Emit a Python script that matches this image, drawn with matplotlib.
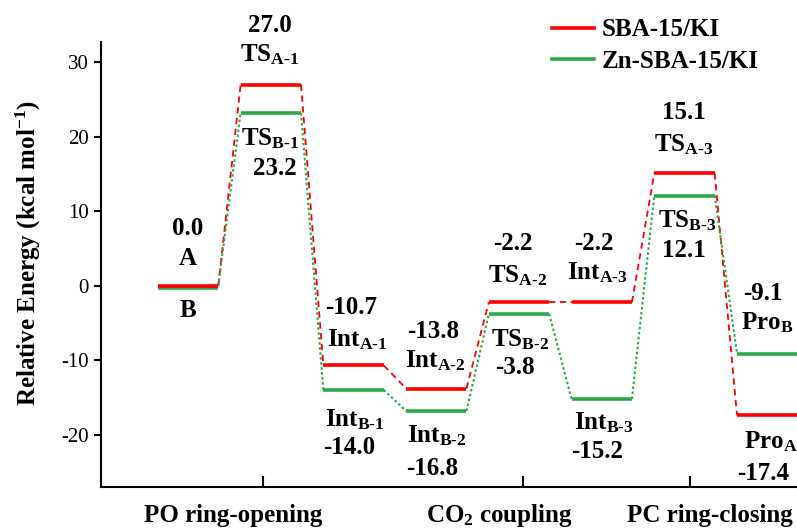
import matplotlib
matplotlib.use('Agg')
import matplotlib.pyplot as plt
import matplotlib.transforms as mtransforms

# energies (kcal/mol) for each stationary point
energy_a = [0.0, 27.0, -10.7, -13.8, -2.2, -2.2, 15.1, -17.4]   # SBA-15/KI
energy_b = [0.0, 23.2, -14.0, -16.8, -3.8, -15.2, 12.1, -9.1]   # Zn-SBA-15/KI
names_a = ['A', 'TS$_{A\\text{-}1}$', 'Int$_{A\\text{-}1}$', 'Int$_{A\\text{-}2}$',
           'TS$_{A\\text{-}2}$', 'Int$_{A\\text{-}3}$', 'TS$_{A\\text{-}3}$', 'Pro$_{A}$']
names_b = ['B', 'TS$_{B\\text{-}1}$', 'Int$_{B\\text{-}1}$', 'Int$_{B\\text{-}2}$',
           'TS$_{B\\text{-}2}$', 'Int$_{B\\text{-}3}$', 'TS$_{B\\text{-}3}$', 'Pro$_{B}$']
series_labels = ['SBA-15/KI', 'Zn-SBA-15/KI']
stages = ['PO ring-opening', 'CO$_2$ coupling', 'PC ring-closing']
yticks = [-20, -10, 0, 10, 20, 30]

RED = '#ff0000'
GREEN = '#2ca84a'

plt.rcParams['font.family'] = ['Liberation Serif', 'DejaVu Serif']
plt.rcParams['mathtext.fontset'] = 'custom'
plt.rcParams['mathtext.rm'] = 'Liberation Serif:bold'
plt.rcParams['mathtext.it'] = 'Liberation Serif:bold'
plt.rcParams['mathtext.bf'] = 'Liberation Serif:bold'

fig = plt.figure(figsize=(7.97, 5.28), dpi=100)
ax = fig.add_axes([0.127, 0.078, 0.873, 0.842])

half = 0.365
n = len(energy_a)
green_shift = mtransforms.ScaledTranslation(0, -1.6 / 72, fig.dpi_scale_trans)

for i in range(n):
    ta = ax.transData
    tb = ax.transData + green_shift if abs(energy_a[i] - energy_b[i]) < 0.5 else ax.transData
    ax.plot([i - half, i + half], [energy_b[i]] * 2, color=GREEN, lw=2.6,
            solid_capstyle='butt', transform=tb, zorder=3)
    ax.plot([i - half, i + half], [energy_a[i]] * 2, color=RED, lw=2.6,
            solid_capstyle='butt', transform=ta, zorder=4)
    if i < n - 1:
        ax.plot([i + half, i + 1 - half], [energy_a[i], energy_a[i + 1]], color=RED,
                lw=1.3, ls=(0, (3.5, 2.5)), zorder=2)
        ax.plot([i + half, i + 1 - half], [energy_b[i], energy_b[i + 1]], color=GREEN,
                lw=1.5, ls=(0, (1.2, 1.2)), zorder=2)

# text placement: (dx, y) for upper number, upper name, lower name, lower number
text_pos = [
    [(0.00, 7.7), (0.00, 3.7), (0.00, -3.3), None],
    [(0.99, 35.0), (0.99, 31.0), (0.99, 19.8), (1.05, 15.8)],
    [(1.97, -2.9), (2.04, -7.3), (2.02, -18.0), (1.95, -21.7)],
    [(2.96, -6.2), (2.99, -10.0), (3.01, -20.1), (2.95, -24.5)],
    [(3.93, 5.7), (3.98, 1.4), (4.01, -7.3), (3.95, -11.0)],
    [(4.90, 5.7), (4.95, 1.7), (5.02, -18.4), (4.95, -22.3)],
    [(5.99, 23.2), (5.99, 18.9), (6.03, 8.8), (5.99, 4.8)],
    [(6.95, -1.0), (7.00, -5.0), (7.04, -21.0), (6.95, -25.2)],
]
tkw = dict(ha='center', va='center', fontsize=18, fontweight='bold', clip_on=False)
for i in range(n):
    if energy_a[i] >= energy_b[i]:
        up = (energy_a[i], names_a[i]); lo = (energy_b[i], names_b[i])
    else:
        up = (energy_b[i], names_b[i]); lo = (energy_a[i], names_a[i])
    p = text_pos[i]
    ax.text(p[0][0], p[0][1], f'{up[0]:.1f}', **tkw)
    ax.text(p[1][0], p[1][1], up[1], **tkw)
    ax.text(p[2][0], p[2][1], lo[1], **tkw)
    if p[3] is not None:
        ax.text(p[3][0], p[3][1], f'{lo[0]:.1f}', **tkw)

stage_x = [0.54, 3.76, 6.31]
for sx, s in zip(stage_x, stages):
    ax.text(sx, -30.9, s, **tkw)

ax.set_xlim(-1.05, 7.36)
ax.set_ylim(-27.0, 32.7)
ax.set_xticks([0.91, 4.05, 6.07])
ax.set_xticklabels([])
ax.set_yticks(yticks)
ax.set_yticklabels([str(t) for t in yticks])
ax.tick_params(axis='x', direction='in', length=8, width=1.5)
ax.tick_params(axis='y', direction='out', length=5, width=1.5, labelsize=15, pad=4)
for side in ['top', 'right']:
    ax.spines[side].set_visible(False)
for side in ['left', 'bottom']:
    ax.spines[side].set_linewidth(1.5)

ax.set_ylabel('Relative Energy (kcal mol$^{-1}$)', fontsize=18, fontweight='bold')
ax.yaxis.set_label_coords(-0.083, 0.525)

h1, = ax.plot([], [], color=RED, lw=2.6)
h2, = ax.plot([], [], color=GREEN, lw=2.6)
leg = ax.legend([h1, h2], series_labels, frameon=False, loc='upper left',
                bbox_to_anchor=(0.664, 1.008), bbox_transform=fig.transFigure,
                prop={'size': 18, 'weight': 'bold'}, handlelength=1.7,
                handletextpad=0.3, labelspacing=0.35)

fig.savefig('out.png', dpi=100)
